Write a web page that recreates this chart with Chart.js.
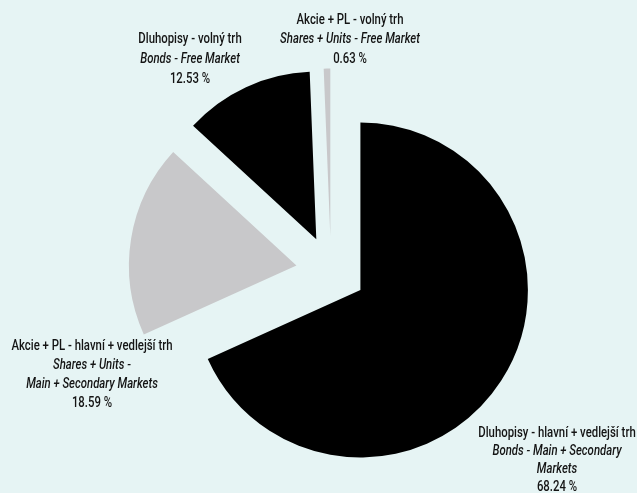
<!DOCTYPE html>
<html>
<head>
<meta charset="utf-8">
<script src="https://cdn.jsdelivr.net/npm/chart.js@4"></script>
<style>
  html, body { margin: 0; padding: 0; background: #e6f4f4; }
  #wrap { position: relative; width: 637px; height: 493px; }
</style>
</head>
<body>
<div id="wrap"><canvas id="pieChart"></canvas></div>
<script>
// data
const labelsCz = ["Dluhopisy - hlavní + vedlejší trh", "Akcie + PL - hlavní + vedlejší trh", "Dluhopisy - volný trh", "Akcie + PL - volný trh"];
const labelsEn = [["Bonds - Main + Secondary", "Markets"], ["Shares + Units -", "Main + Secondary Markets"], ["Bonds - Free Market"], ["Shares + Units - Free Market"]];
const shares = [68.24, 18.59, 12.53, 0.63];
const sliceColors = ["#000000", "#c8c8ca", "#000000", "#c8c8ca"];

// where each label block sits (centre x, first line y, line step)
const labelSpots = [
  { x: 557, y: 433, step: 18 },
  { x: 92, y: 346, step: 19 },
  { x: 190, y: 39, step: 20 },
  { x: 350, y: 20, step: 19.5 }
];

const explode = 35;
const fontName = "Roboto, 'Liberation Sans', sans-serif";
const fontSize = 15;
// the original face is a narrow one, squeeze the text to about the same width
const refWidth = 161;

// push every slice out along its own middle angle
const explodePlugin = {
  id: "explodeSlices",
  afterDatasetUpdate(chart, args) {
    args.meta.data.forEach(arc => {
      let mid = (arc.startAngle + arc.endAngle) / 2;
      arc.x += Math.cos(mid) * explode;
      arc.y += Math.sin(mid) * explode;
    });
  }
};

const labelPlugin = {
  id: "sliceLabels",
  afterDraw(chart) {
    const ctx = chart.ctx;
    ctx.save();
    ctx.fillStyle = "#141414";
    ctx.textAlign = "center";
    ctx.textBaseline = "middle";
    ctx.font = "500 " + fontSize + "px " + fontName;
    let sx = refWidth / ctx.measureText(labelsCz[1]).width;
    labelSpots.forEach((spot, i) => {
      let lines = [{ t: labelsCz[i], it: false }];
      labelsEn[i].forEach(t => lines.push({ t: t, it: true }));
      lines.push({ t: shares[i].toFixed(2) + " %", it: false });
      lines.forEach((ln, j) => {
        ctx.save();
        ctx.font = (ln.it ? "italic " : "") + "500 " + fontSize + "px " + fontName;
        ctx.translate(spot.x, spot.y + j * spot.step);
        ctx.scale(sx, 1);
        ctx.fillText(ln.t, 0, 0);
        ctx.restore();
      });
    });
    ctx.restore();
  }
};

new Chart(document.getElementById("pieChart"), {
  type: "pie",
  data: {
    labels: labelsCz,
    datasets: [{
      data: shares,
      backgroundColor: sliceColors,
      borderWidth: 0
    }]
  },
  options: {
    responsive: true,
    maintainAspectRatio: false,
    animation: false,
    radius: 167.5,
    layout: { padding: { left: 25, right: 0, top: 49, bottom: 0 } },
    plugins: {
      legend: { display: false },
      tooltip: { enabled: false }
    }
  },
  plugins: [explodePlugin, labelPlugin]
});
</script>
</body>
</html>
